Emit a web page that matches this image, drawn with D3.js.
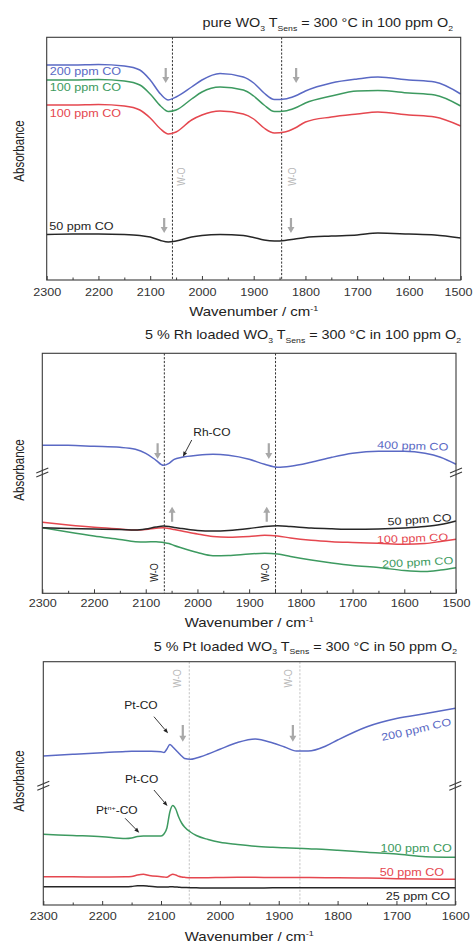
<!DOCTYPE html>
<html>
<head>
<meta charset="utf-8">
<script src="https://cdn.jsdelivr.net/npm/d3@7"></script>
<style>
  body { margin: 0; background: #fff; }
  #chart svg { display: block; }
</style>
</head>
<body>
<div id="chart"></div>
<script>
// ---- data (absorbance in arbitrary units) ----
const xTicksA = [2300, 2200, 2100, 2000, 1900, 1800, 1700, 1600, 1500];
const xTicksB = [2300, 2200, 2100, 2000, 1900, 1800, 1700, 1600];

// panel 1: pure WO3
const wn1 = [2300, 2250, 2200, 2150, 2120, 2100, 2080, 2065, 2050, 2020, 2000, 1965, 1920, 1900, 1880, 1860, 1840, 1820, 1800, 1750, 1700, 1660, 1600, 1550, 1500];
const p1CO200 = [2.15, 2.15, 2.155, 2.14, 2.10, 2.00, 1.86, 1.80, 1.83, 1.93, 2.00, 2.065, 2.03, 1.97, 1.87, 1.805, 1.81, 1.84, 1.89, 1.97, 2.01, 2.03, 2.00, 1.98, 1.86];
const p1CO100a = [2.00, 2.00, 2.005, 1.99, 1.95, 1.86, 1.74, 1.685, 1.70, 1.81, 1.88, 1.93, 1.90, 1.84, 1.75, 1.685, 1.69, 1.72, 1.77, 1.84, 1.89, 1.895, 1.87, 1.85, 1.74];
const p1CO100b = [1.75, 1.75, 1.755, 1.74, 1.70, 1.62, 1.51, 1.46, 1.48, 1.60, 1.65, 1.69, 1.66, 1.61, 1.52, 1.47, 1.48, 1.52, 1.58, 1.63, 1.66, 1.68, 1.65, 1.63, 1.54];
const p1CO50 = [0.455, 0.46, 0.46, 0.455, 0.445, 0.43, 0.395, 0.38, 0.39, 0.43, 0.445, 0.455, 0.445, 0.425, 0.40, 0.39, 0.395, 0.41, 0.425, 0.44, 0.45, 0.47, 0.46, 0.45, 0.42];

// panel 2: 5 % Rh loaded WO3
const wn2 = [2300, 2250, 2200, 2150, 2120, 2100, 2080, 2066, 2055, 2045, 2030, 2000, 1970, 1940, 1900, 1870, 1845, 1820, 1780, 1740, 1700, 1650, 1600, 1560, 1530, 1500];
const p2CO400 = [1.48, 1.48, 1.47, 1.46, 1.44, 1.40, 1.33, 1.28, 1.30, 1.34, 1.36, 1.38, 1.39, 1.38, 1.34, 1.29, 1.26, 1.27, 1.31, 1.36, 1.40, 1.42, 1.42, 1.40, 1.36, 1.29];
const p2CO50 = [0.656, 0.648, 0.643, 0.638, 0.633, 0.643, 0.663, 0.673, 0.668, 0.658, 0.648, 0.628, 0.623, 0.628, 0.648, 0.668, 0.676, 0.668, 0.653, 0.645, 0.640, 0.643, 0.653, 0.668, 0.688, 0.723];
const p2CO100 = [0.710, 0.683, 0.660, 0.643, 0.633, 0.638, 0.650, 0.656, 0.648, 0.638, 0.623, 0.593, 0.568, 0.560, 0.568, 0.580, 0.573, 0.553, 0.530, 0.516, 0.508, 0.500, 0.490, 0.498, 0.518, 0.540];
const p2CO200 = [0.656, 0.613, 0.573, 0.538, 0.516, 0.513, 0.516, 0.508, 0.498, 0.478, 0.453, 0.408, 0.376, 0.378, 0.393, 0.400, 0.393, 0.368, 0.333, 0.303, 0.278, 0.258, 0.228, 0.218, 0.233, 0.256];

// panel 3: 5 % Pt loaded WO3
const wn3 = [2300, 2250, 2200, 2160, 2150, 2140, 2130, 2120, 2100, 2095, 2090, 2085, 2080, 2075, 2070, 2065, 2060, 2050, 2040, 2020, 2000, 1970, 1940, 1910, 1890, 1870, 1850, 1820, 1800, 1750, 1700, 1650, 1600];
const p3CO200 = [1.49, 1.507, 1.523, 1.535, 1.537, 1.538, 1.538, 1.537, 1.533, 1.525, 1.56, 1.605, 1.58, 1.55, 1.52, 1.49, 1.465, 1.457, 1.47, 1.51, 1.557, 1.625, 1.66, 1.62, 1.58, 1.54, 1.54, 1.59, 1.65, 1.783, 1.865, 1.915, 1.967];
const p3CO100 = [0.707, 0.695, 0.683, 0.665, 0.67, 0.685, 0.69, 0.69, 0.69, 0.71, 0.77, 0.93, 0.995, 0.96, 0.88, 0.82, 0.78, 0.73, 0.695, 0.655, 0.627, 0.605, 0.587, 0.577, 0.572, 0.568, 0.562, 0.555, 0.548, 0.527, 0.51, 0.483, 0.477];
const p3CO50 = [0.283, 0.282, 0.28, 0.282, 0.285, 0.30, 0.307, 0.295, 0.283, 0.28, 0.277, 0.295, 0.307, 0.30, 0.287, 0.28, 0.277, 0.273, 0.273, 0.273, 0.275, 0.277, 0.277, 0.275, 0.275, 0.275, 0.274, 0.273, 0.273, 0.27, 0.263, 0.26, 0.257];
const p3CO25 = [0.183, 0.182, 0.182, 0.183, 0.186, 0.192, 0.193, 0.188, 0.18, 0.18, 0.18, 0.182, 0.182, 0.18, 0.178, 0.176, 0.175, 0.173, 0.172, 0.17, 0.17, 0.17, 0.17, 0.172, 0.172, 0.173, 0.173, 0.173, 0.173, 0.173, 0.173, 0.173, 0.173];

// ---- styling ----
const FONT = "'Liberation Sans', Arial, sans-serif";
const SX = 1.2; // the source figure is stretched sideways, text included
const BLUE = "#5a69c4", GREEN = "#3d9a60", RED = "#e5474f", BLACK = "#262626";
const ARROW_GRAY = "#a8a8a8", FRAME = "#3a3a3a";
const W = 473, H = 947;

const svg = d3.select("#chart").append("svg")
  .attr("width", W).attr("height", H)
  .attr("font-family", FONT);

// text helper: parts are strings or [text, "sub"|"sup"]
function addText(g, x, y, parts, o = {}) {
  const size = o.size || 11;
  const rot = o.rotate || 0;
  const scale = o.vertical ? `scale(1,${SX})` : `scale(${SX},1)`;
  const t = g.append("text")
    .attr("transform", `translate(${x},${y}) rotate(${rot}) ${scale}`)
    .attr("text-anchor", o.anchor || "start")
    .attr("font-size", size)
    .attr("fill", o.color || "#222");
  let back = 0;
  (Array.isArray(parts) ? parts : [parts]).forEach((p) => {
    if (typeof p === "string") {
      t.append("tspan").attr("dy", back || null).text(p);
      back = 0;
    } else {
      const shift = p[1] === "sub" ? size * 0.3 : -size * 0.4;
      t.append("tspan").attr("dy", shift + back).attr("font-size", size * 0.6).text(p[0]);
      back = -shift;
    }
  });
  return t;
}

function grayArrow(g, x0, y0, y1) {
  const dir = Math.sign(y1 - y0);
  const hb = y1 - dir * 6;
  g.append("path")
    .attr("d", `M${x0 - 1.1},${y0} L${x0 + 1.1},${y0} L${x0 + 1.1},${hb} L${x0 + 3.5},${hb} L${x0},${y1} L${x0 - 3.5},${hb} L${x0 - 1.1},${hb} Z`)
    .attr("fill", ARROW_GRAY);
}

function pointer(g, x0, y0, x1, y1) {
  const a = Math.atan2(y1 - y0, x1 - x0);
  const L = 5, Wd = 2;
  const bx = x1 - L * Math.cos(a), by = y1 - L * Math.sin(a);
  g.append("line").attr("x1", x0).attr("y1", y0).attr("x2", bx).attr("y2", by)
    .attr("stroke", "#222").attr("stroke-width", 0.9);
  g.append("path")
    .attr("d", `M${x1},${y1} L${bx - Wd * Math.sin(a)},${by + Wd * Math.cos(a)} L${bx + Wd * Math.sin(a)},${by - Wd * Math.cos(a)} Z`)
    .attr("fill", "#222");
}

function drawPanel(p) {
  const x = d3.scaleLinear().domain(p.xDomain).range([p.left, p.right]);
  const y = d3.scaleLinear().domain(p.yDomain).range([p.bottom, p.top]);
  const g = svg.append("g");

  // W-O reference lines
  p.dashes.forEach((w) => {
    g.append("line")
      .attr("x1", x(w)).attr("x2", x(w)).attr("y1", p.top).attr("y2", p.bottom)
      .attr("stroke", p.dashColor).attr("stroke-width", 1)
      .attr("stroke-dasharray", "2.2,1.6");
  });

  // spectra
  const line = d3.line().x((d) => x(d[0])).y((d) => y(d[1])).curve(d3.curveMonotoneX);
  p.series.forEach((s) => {
    g.append("path")
      .datum(d3.zip(p.wn, s.values))
      .attr("fill", "none")
      .attr("stroke", s.color)
      .attr("stroke-width", 1.5)
      .attr("d", line);
  });

  // frame
  g.append("rect")
    .attr("x", p.left).attr("y", p.top)
    .attr("width", p.right - p.left).attr("height", p.bottom - p.top)
    .attr("fill", "none").attr("stroke", FRAME).attr("stroke-width", 1.1);

  // bottom axis, inward ticks
  const ax = g.append("g")
    .attr("transform", `translate(0,${p.bottom})`)
    .call(d3.axisBottom(x).tickValues(p.ticks).tickSizeInner(-4).tickSizeOuter(0)
      .tickPadding(p.tickPad).tickFormat(d3.format("d")));
  ax.select(".domain").remove();
  ax.selectAll("line").attr("stroke", FRAME);
  ax.selectAll("text")
    .attr("font-size", 10.5).attr("font-family", FONT).attr("fill", "#333")
    .attr("transform", `scale(${SX},1)`)
    .each(function (d) {
      // keep the last label inside the page
      const half = (this.getComputedTextLength() * SX) / 2;
      const over = x(d) + half - (W - 1);
      if (over > 0) d3.select(this).attr("x", -over / SX);
    });

  const minor = p.ticks.slice(1).map((t) => t + 50);
  const mx = g.append("g")
    .attr("transform", `translate(0,${p.bottom})`)
    .call(d3.axisBottom(x).tickValues(minor).tickSizeInner(-2.5).tickSizeOuter(0).tickFormat(""));
  mx.select(".domain").remove();
  mx.selectAll("line").attr("stroke", FRAME);

  // axis break marks
  if (p.breakAt !== undefined) {
    [p.left, p.right].forEach((bx) => {
      const by = y(p.breakAt);
      [0, 4].forEach((off) => {
        g.append("line")
          .attr("x1", bx - 6).attr("y1", by + 3 + off)
          .attr("x2", bx + 6).attr("y2", by - 2 + off)
          .attr("stroke", FRAME).attr("stroke-width", 1.1);
      });
    });
  }

  // titles
  addText(g, p.titleX, p.titleY, p.title, { size: 12, anchor: "end", color: "#1e1e1e" });
  addText(g, (p.left + p.right) / 2, p.axisTitleY, ["Wavenumber / cm", ["-1", "sup"]],
    { size: 12.5, anchor: "middle", color: "#222" });
  addText(g, 24, p.yLabelY, "Absorbance",
    { size: 11.5, anchor: "middle", rotate: -90, vertical: true, color: "#222" });

  // gray arrows
  p.arrows.forEach((a) => grayArrow(g, x(a.wn), y(a.from), y(a.to)));

  // W-O labels
  p.woLabels.forEach((w) => {
    addText(g, x(w.wn), y(w.v), "W-O",
      { size: 9, anchor: "middle", rotate: -90, vertical: true, color: p.woColor });
  });

  // series labels
  p.labels.forEach((l) => {
    addText(g, x(l.wn), y(l.v), l.text,
      { size: 10.5, anchor: l.anchor, rotate: l.rot || 0, color: l.color });
  });

  // band assignments with pointers
  (p.notes || []).forEach((n) => {
    addText(g, x(n.wn), y(n.v), n.text, { size: 10, anchor: "middle", color: "#222" });
    pointer(g, x(n.from[0]), y(n.from[1]), x(n.to[0]), y(n.to[1]));
  });
}

drawPanel({
  left: 46.7, right: 460.7, top: 37.3, bottom: 280,
  xDomain: [2300, 1500], yDomain: [0, 2.427], ticks: xTicksA, tickPad: 9,
  wn: wn1,
  series: [
    { values: p1CO200, color: BLUE },
    { values: p1CO100a, color: GREEN },
    { values: p1CO100b, color: RED },
    { values: p1CO50, color: BLACK },
  ],
  dashes: [2057, 1846], dashColor: "#333",
  title: ["pure WO", ["3", "sub"], " T", ["Sens", "sub"], " = 300 °C in 100 ppm O", ["2", "sub"]],
  titleX: 453, titleY: 27, axisTitleY: 316, yLabelY: 151,
  arrows: [
    { wn: 2070, from: 2.12, to: 1.97 }, { wn: 1818, from: 2.12, to: 1.97 },
    { wn: 2073, from: 0.62, to: 0.47 }, { wn: 1828, from: 0.62, to: 0.47 },
  ],
  woLabels: [{ wn: 2032, v: 1.033 }, { wn: 1819, v: 1.033 }], woColor: "#b8b8b8",
  labels: [
    { text: "200 ppm CO", wn: 2294, v: 2.05, color: BLUE, anchor: "start" },
    { text: "100 ppm CO", wn: 2294, v: 1.893, color: GREEN, anchor: "start" },
    { text: "100 ppm CO", wn: 2294, v: 1.633, color: RED, anchor: "start" },
    { text: "50 ppm CO", wn: 2295, v: 0.50, color: BLACK, anchor: "start" },
  ],
});

drawPanel({
  left: 42.3, right: 456, top: 353.3, bottom: 593.3,
  xDomain: [2300, 1500], yDomain: [0, 2.40], ticks: xTicksA, tickPad: 6.5,
  wn: wn2,
  series: [
    { values: p2CO400, color: BLUE },
    { values: p2CO200, color: GREEN },
    { values: p2CO100, color: RED },
    { values: p2CO50, color: BLACK },
  ],
  dashes: [2064, 1849], dashColor: "#333",
  title: ["5 % Rh loaded WO", ["3", "sub"], " T", ["Sens", "sub"], " = 300 °C in 100 ppm O", ["2", "sub"]],
  titleX: 461, titleY: 339, axisTitleY: 627, yLabelY: 470,
  breakAt: 1.233,
  arrows: [
    { wn: 2077, from: 1.50, to: 1.343 }, { wn: 1862, from: 1.50, to: 1.343 },
    { wn: 2049, from: 0.716, to: 0.866 }, { wn: 1866, from: 0.716, to: 0.866 },
  ],
  woLabels: [{ wn: 2077, v: 0.208 }, { wn: 1861, v: 0.208 }], woColor: "#222",
  labels: [
    { text: "400 ppm CO", wn: 1515, v: 1.426, color: BLUE, anchor: "end", rot: 2 },
    { text: "50 ppm CO", wn: 1508, v: 0.723, color: BLACK, anchor: "end", rot: -4 },
    { text: "100 ppm CO", wn: 1515, v: 0.526, color: RED, anchor: "end", rot: -2 },
    { text: "200 ppm CO", wn: 1505, v: 0.293, color: GREEN, anchor: "end", rot: -3 },
  ],
  notes: [{ text: "Rh-CO", wn: 1972, v: 1.573, from: [2011, 1.533], to: [2028, 1.366] }],
});

drawPanel({
  left: 43.3, right: 455.3, top: 661.7, bottom: 905,
  xDomain: [2300, 1600], yDomain: [0, 2.433], ticks: xTicksB, tickPad: 8,
  wn: wn3,
  series: [
    { values: p3CO200, color: BLUE },
    { values: p3CO100, color: GREEN },
    { values: p3CO50, color: RED },
    { values: p3CO25, color: BLACK },
  ],
  dashes: [2052, 1864], dashColor: "#c4c4c4",
  title: ["5 % Pt loaded WO", ["3", "sub"], " T", ["Sens", "sub"], " = 300 °C in 50 ppm O", ["2", "sub"]],
  titleX: 457, titleY: 650.5, axisTitleY: 941, yLabelY: 781,
  breakAt: 1.217,
  arrows: [{ wn: 2063, from: 1.80, to: 1.633 }, { wn: 1876, from: 1.80, to: 1.633 }],
  woLabels: [{ wn: 2066, v: 2.267 }, { wn: 1878, v: 2.267 }], woColor: "#b8b8b8",
  labels: [
    { text: "200 ppm CO", wn: 1606, v: 1.80, color: BLUE, anchor: "end", rot: -13 },
    { text: "100 ppm CO", wn: 1606, v: 0.527, color: GREEN, anchor: "end" },
    { text: "50 ppm CO", wn: 1619, v: 0.293, color: RED, anchor: "end" },
    { text: "25 ppm CO", wn: 1609, v: 0.05, color: BLACK, anchor: "end" },
  ],
  notes: [
    { text: "Pt-CO", wn: 2134, v: 1.96, from: [2112, 1.883], to: [2088, 1.717] },
    { text: "Pt-CO", wn: 2133, v: 1.22, from: [2112, 1.15], to: [2089, 0.99] },
    { text: ["Pt", ["n+", "sup"], "-CO"], wn: 2175, v: 0.91, from: [2161, 0.867], to: [2137, 0.723] },
  ],
});
</script>
</body>
</html>
